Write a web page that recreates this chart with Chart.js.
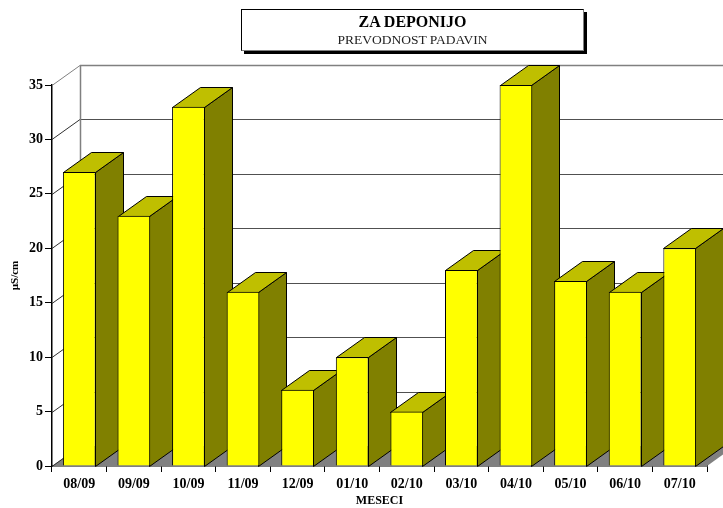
<!DOCTYPE html>
<html lang="sl">
<head>
  <meta charset="UTF-8" />
  <title>ZA DEPONIJO</title>
  <script src="https://cdn.jsdelivr.net/npm/chart.js"></script>
  <style>
    body { margin: 0; background: #fff; }
    #wrap { position: relative; width: 723px; height: 508px; overflow: hidden; }
    #chart { position: absolute; left: 0; top: 0; }
    #titleBox {
      position: absolute; left: 241px; top: 9px; width: 343px; height: 42px;
      box-sizing: border-box; border: 1px solid #000; border-right-color: #808080; border-bottom-color: #808080;
      box-shadow: 3px 3px 0 #000; background: #fff; text-align: center;
      font-family: "Liberation Serif", serif; color: #000;
    }
    #titleBox .t1 { font-weight: bold; font-size: 16px; line-height: 19px; margin-top: 2px; }
    #titleBox .t2 { font-size: 13.5px; line-height: 17px; color: #222; }
  </style>
</head>
<body>
<div id="wrap">
  <canvas id="chart" width="723" height="508"></canvas>
  <div id="titleBox">
    <div class="t1">ZA DEPONIJO</div>
    <div class="t2">PREVODNOST PADAVIN</div>
  </div>
</div>
<script>
  const months = ["08/09", "09/09", "10/09", "11/09", "12/09", "01/10",
                  "02/10", "03/10", "04/10", "05/10", "06/10", "07/10"];
  const conductivity = [27, 23, 33, 16, 7, 10, 5, 18, 35, 17, 16, 20];
  const yTicks = [0, 5, 10, 15, 20, 25, 30, 35];

  // 3D offset of the back wall
  const depthX = 28;
  const depthY = 20;

  function poly(ctx, pts, fill, stroke, width) {
    ctx.beginPath();
    pts.forEach((p, i) => i ? ctx.lineTo(p[0], p[1]) : ctx.moveTo(p[0], p[1]));
    ctx.closePath();
    if (fill) { ctx.fillStyle = fill; ctx.fill(); }
    if (stroke) { ctx.strokeStyle = stroke; ctx.lineWidth = width || 1; ctx.stroke(); }
  }

  const pseudo3d = {
    id: "pseudo3d",
    beforeDatasetsDraw(chart) {
      const { ctx, chartArea, scales } = chart;
      const left = chartArea.left, right = chartArea.right, bottom = chartArea.bottom;
      ctx.save();

      // floor
      poly(ctx, [[left, bottom], [right, bottom], [right + depthX, bottom - depthY], [left + depthX, bottom - depthY]], "#808080");

      // back wall lines
      yTicks.forEach(v => {
        const y = Math.round(scales.y.getPixelForValue(v)) + 0.5;
        ctx.lineWidth = 1;
        ctx.strokeStyle = v === 35 ? "#808080" : "#303030";
        ctx.beginPath();
        ctx.moveTo(left, y);
        ctx.lineTo(left + depthX, y - depthY);
        ctx.stroke();
        if (v > 0) {
          ctx.strokeStyle = v === 35 ? "#808080" : "#505050";
          ctx.lineWidth = v === 35 ? 1.5 : 1;
          ctx.beginPath();
          ctx.moveTo(left + depthX, y - depthY);
          ctx.lineTo(right + depthX, y - depthY);
          ctx.stroke();
        }
      });
      ctx.strokeStyle = "#808080";
      ctx.lineWidth = 1.5;
      ctx.beginPath();
      ctx.moveTo(left + depthX + 0.5, scales.y.getPixelForValue(35) - depthY);
      ctx.lineTo(left + depthX + 0.5, bottom - depthY);
      ctx.stroke();

      // bar sides and tops, left to right; the fronts come from the dataset itself
      chart.getDatasetMeta(0).data.forEach(bar => {
        const l = Math.round(bar.x - bar.width / 2) + 0.5;
        const r = Math.round(bar.x + bar.width / 2) - 0.5;
        const t = Math.round(bar.y) + 0.5;
        const b = Math.round(bar.base) + 0.5;
        poly(ctx, [[r, t], [r + depthX, t - depthY], [r + depthX, b - depthY], [r, b]], "#808000", "#000");
        poly(ctx, [[l, t], [r, t], [r + depthX, t - depthY], [l + depthX, t - depthY]], "#BFBF00", "#000");
      });
      ctx.restore();
    }
  };

  new Chart(document.getElementById("chart"), {
    type: "bar",
    plugins: [pseudo3d],
    data: {
      labels: months,
      datasets: [{
        data: conductivity,
        backgroundColor: "#FFFF00",
        borderColor: "#000",
        borderWidth: 1,
        barPercentage: 0.6,
        categoryPercentage: 1,
        clip: false
      }]
    },
    options: {
      responsive: false,
      animation: false,
      layout: { padding: { top: 85, right: 16, left: 0, bottom: 0 } },
      plugins: { legend: { display: false }, tooltip: { enabled: false } },
      scales: {
        x: {
          afterFit: s => { s.height = 42; },
          border: { color: "#000", width: 1.5 },
          grid: { drawOnChartArea: false, color: "#000", tickLength: 6 },
          ticks: {
            autoSkip: false, maxRotation: 0, padding: 4, color: "#000",
            font: { family: "Liberation Serif", weight: "bold", size: 14 }
          },
          title: {
            display: true, text: "MESECI", color: "#000", padding: { top: 0, bottom: 0 },
            font: { family: "Liberation Serif", weight: "bold", size: 12 }
          }
        },
        y: {
          min: 0,
          max: 35,
          afterFit: s => { s.width = 52; },
          afterBuildTicks: s => { s.ticks = yTicks.map(v => ({ value: v })); },
          border: { color: "#000", width: 1.5 },
          grid: { drawOnChartArea: false, color: "#000", tickLength: 7 },
          ticks: {
            padding: 2, color: "#000",
            font: { family: "Liberation Serif", weight: "bold", size: 14 }
          },
          title: {
            display: true, text: "µS/cm", color: "#000", padding: { top: 9, bottom: 0 },
            font: { family: "Liberation Serif", weight: "bold", size: 11 }
          }
        }
      }
    }
  });
</script>
</body>
</html>
